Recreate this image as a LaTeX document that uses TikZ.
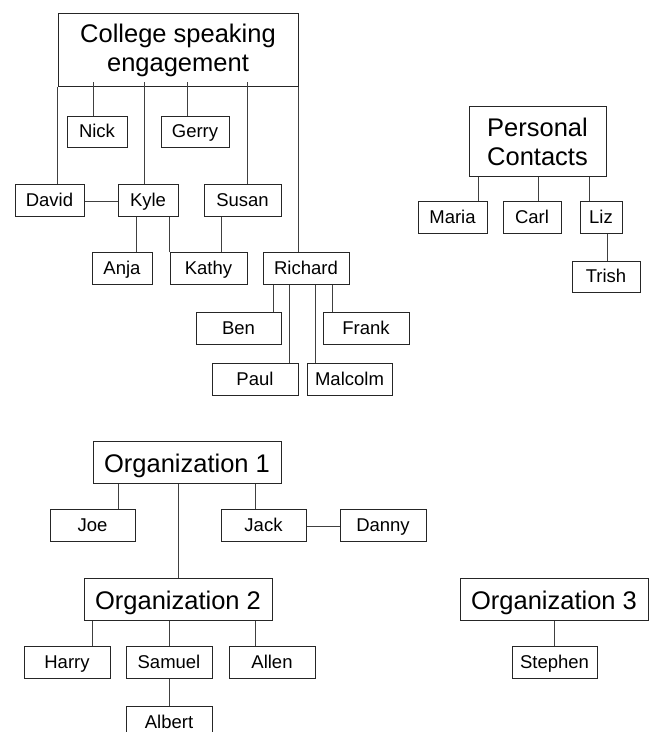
\documentclass[tikz,border=0pt]{standalone}
\usepackage{fontspec}
\setmainfont{Liberation Sans}
\usepackage{tikz}
\tikzstyle{topic} = [rectangle, align=center, text centered, draw=black!85, line width=1pt, inner sep=0pt, font=\fontsize{25.5}{29}\selectfont]
\tikzstyle{orgbox} = [topic, minimum width=188pt, minimum height=42pt, text height=18.3pt, text depth=0pt]
\tikzstyle{person} = [rectangle, minimum height=32pt, text centered, draw=black!85, line width=1pt, inner sep=0pt, text height=13.3pt, text depth=3pt, font=\fontsize{18.5}{22}\selectfont]
\tikzstyle{link} = [line width=0.9pt, draw=black!75]

\begin{document}
\begin{tikzpicture}[x=1pt, y=1pt]
\useasboundingbox (0,0) rectangle (649,732);
%
% college tree
\node (college) [topic, minimum width=240pt, minimum height=73pt] at (178,681.5) {College speaking\\engagement};
\coordinate (csbot) at ([yshift=5pt]college.south);
\node (nick) [person, minimum width=60pt, minimum height=31pt] at (97,599.5) {Nick};
\node (gerry) [person, minimum width=68pt, minimum height=31pt] at (195,599.5) {Gerry};
\node (david) [person, minimum width=69pt] at (49.5,531) {David};
\node (kyle) [person, minimum width=60pt] at (148,531) {Kyle};
\node (susan) [person, minimum width=77pt] at (242.5,531) {Susan};
\node (anja) [person, minimum width=60pt] at (122,463) {Anja};
\node (kathy) [person, minimum width=77pt] at (208.5,463) {Kathy};
\node (richard) [person, minimum width=86pt] at (306,463) {Richard};
\node (ben) [person, minimum width=85pt] at (238.5,403) {Ben};
\node (frank) [person, minimum width=86pt] at (366,403) {Frank};
\node (paul) [person, minimum width=86pt] at (255,352) {Paul};
\node (malcolm) [person, minimum width=85pt] at (349.5,352) {Malcolm};
%
% personal contacts
\node (personal) [topic, minimum width=137pt, minimum height=70pt] at (537.5,590) {Personal\\Contacts};
\node (maria) [person, minimum width=69pt] at (452.5,514) {Maria};
\node (carl) [person, minimum width=58pt] at (532,514) {Carl};
\node (liz) [person, minimum width=42pt] at (601,514) {Liz};
\node (trish) [person, minimum width=68pt, minimum height=31pt] at (606,454.5) {Trish};
%
% organizations
\node (org1) [orgbox] at (187,269) {Organization 1};
\node (joe) [person, minimum width=85pt] at (92.5,206) {Joe};
\node (jack) [person, minimum width=85pt] at (263.5,206) {Jack};
\node (danny) [person, minimum width=86pt] at (383,206) {Danny};
\node (org2) [orgbox] at (178,132) {Organization 2};
\node (org3) [orgbox] at (554,132) {Organization 3};
\node (harry) [person, minimum width=86pt] at (67,69) {Harry};
\node (samuel) [person, minimum width=86pt] at (169,69) {Samuel};
\node (allen) [person, minimum width=86pt] at (272,69) {Allen};
\node (stephen) [person, minimum width=85pt] at (554.5,69) {Stephen};
\node (albert) [person, minimum width=86pt] at (169,9) {Albert};

%
\draw [link] (college.south west) -- (college.south west |- david.north);
\draw [link] (college.south east) -- (college.south east |- richard.north);
\draw [link] ([xshift=-4pt]nick.north) -- ([xshift=-4pt]nick.north |- csbot);
\draw [link] ([xshift=-4pt]kyle.north) -- ([xshift=-4pt]kyle.north |- csbot);
\draw [link] ([xshift=-8pt]gerry.north) -- ([xshift=-8pt]gerry.north |- csbot);
\draw [link] ([xshift=4.5pt]susan.north) -- ([xshift=4.5pt]susan.north |- csbot);
\draw [link] (david.east) -- (kyle.west);
\draw [link] ([xshift=14pt]anja.north) -- ([xshift=14pt]anja.north |- kyle.south);
\draw [link] (kathy.north west) -- (kathy.north west |- kyle.south);
\draw [link] ([xshift=12.5pt]kathy.north) -- ([xshift=12.5pt]kathy.north |- susan.south);
\draw [link] ([xshift=34.5pt]ben.north) -- ([xshift=34.5pt]ben.north |- richard.south);
\draw [link] ([xshift=34pt]paul.north) -- ([xshift=34pt]paul.north |- richard.south);
\draw [link] ([xshift=-34.5pt]malcolm.north) -- ([xshift=-34.5pt]malcolm.north |- richard.south);
\draw [link] ([xshift=-34pt]frank.north) -- ([xshift=-34pt]frank.north |- richard.south);
%
\draw [link] ([xshift=25.5pt]maria.north) -- ([xshift=25.5pt]maria.north |- personal.south);
\draw [link] ([xshift=6pt]carl.north) -- ([xshift=6pt]carl.north |- personal.south);
\draw [link] ([xshift=-12pt]liz.north) -- ([xshift=-12pt]liz.north |- personal.south);
\draw [link] ([xshift=1pt]trish.north) -- ([xshift=1pt]trish.north |- liz.south);
%
\draw [link] ([xshift=26pt]joe.north) -- ([xshift=26pt]joe.north |- org1.south);
\draw [link] (org2.north) -- (org2.north |- org1.south);
\draw [link] ([xshift=-8.5pt]jack.north) -- ([xshift=-8.5pt]jack.north |- org1.south);
\draw [link] (jack.east) -- (danny.west);
\draw [link] ([xshift=25pt]harry.north) -- ([xshift=25pt]harry.north |- org2.south);
\draw [link] (samuel.north) -- (org2.south -| samuel.north);
\draw [link] ([xshift=-17pt]allen.north) -- ([xshift=-17pt]allen.north |- org2.south);
\draw [link] (albert.north) -- (samuel.south);
\draw [link] (stephen.north) -- (stephen.north |- org3.south);
%
\end{tikzpicture}
\end{document}
